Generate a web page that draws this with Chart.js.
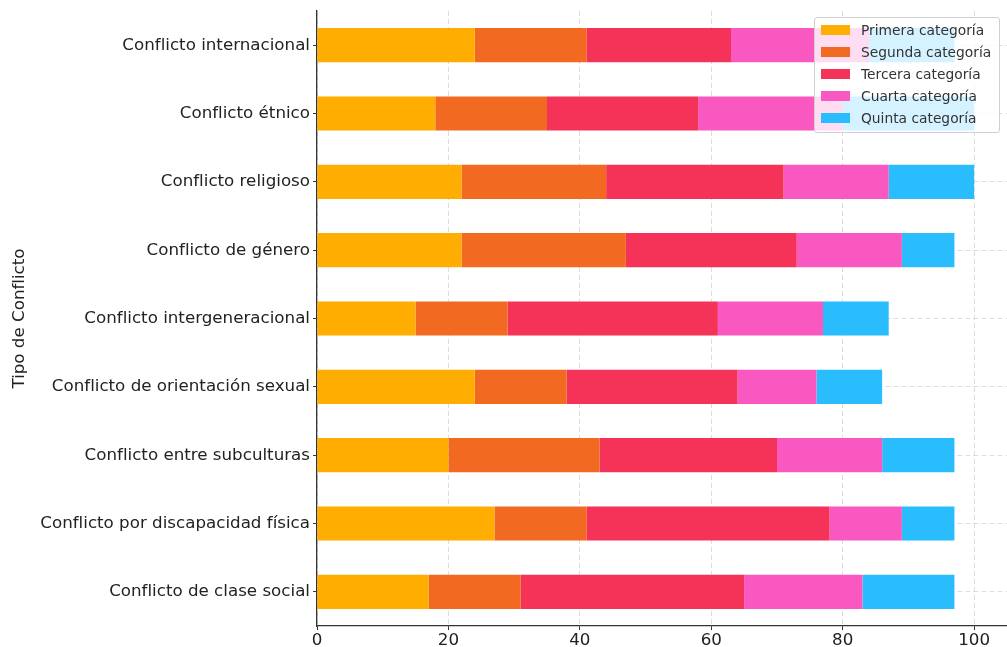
<!DOCTYPE html>
<html lang="es">
<head>
<meta charset="utf-8">
<title>Tipo de Conflicto</title>
<script src="https://cdn.jsdelivr.net/npm/chart.js@4.4.1/dist/chart.umd.min.js"></script>
<style>
  html, body { margin: 0; padding: 0; background: #fff; }
  #wrap { position: relative; width: 1007px; height: 647px; overflow: hidden; }
  #legend {
    position: absolute; left: 814px; top: 17px; width: 186px;
    box-sizing: border-box; padding: 1px 0 3px 6px;
    background: rgba(255, 255, 255, 0.8);
    border: 1px solid #d0d0d0; border-radius: 3px;
    font-family: "DejaVu Sans", sans-serif; font-size: 13.8px; color: #333;
  }
  .item { display: flex; align-items: center; height: 22px; }
  .swatch { width: 29px; height: 10px; margin-right: 11px; }
</style>
</head>
<body>
<div id="wrap">
  <canvas id="chart" width="1007" height="647"></canvas>
  <div id="legend"></div>
</div>
<script>
  // ==================== Data ====================
  const categories = [
    'Conflicto internacional',
    'Conflicto étnico',
    'Conflicto religioso',
    'Conflicto de género',
    'Conflicto intergeneracional',
    'Conflicto de orientación sexual',
    'Conflicto entre subculturas',
    'Conflicto por discapacidad física',
    'Conflicto de clase social'
  ];

  const seriesLabels = ['Primera categoría', 'Segunda categoría', 'Tercera categoría', 'Cuarta categoría', 'Quinta categoría'];

  const primera = [24, 18, 22, 22, 15, 24, 20, 27, 17];
  const segunda = [17, 17, 22, 25, 14, 14, 23, 14, 14];
  const tercera = [22, 23, 27, 26, 32, 26, 27, 37, 34];
  const cuarta  = [21, 22, 16, 16, 16, 12, 16, 11, 18];
  const quinta  = [13, 20, 13,  8, 10, 10, 11,  8, 14];

  const xTicks = [0, 20, 40, 60, 80, 100];

  const colors = ['#ffad00', '#f26a22', '#f53257', '#f858c0', '#29bdfd'];

  // ==================== Chart ====================
  const font = { family: '"DejaVu Sans", sans-serif', size: 16.7 };
  const gridColor = 'rgba(176, 176, 176, 0.55)';

  const datasets = [primera, segunda, tercera, cuarta, quinta].map((values, i) => ({
    label: seriesLabels[i],
    data: values,
    backgroundColor: colors[i],
    borderWidth: 0,
    barPercentage: 0.5,
    categoryPercentage: 1
  }));

  new Chart(document.getElementById('chart'), {
    type: 'bar',
    data: { labels: categories, datasets: datasets },
    options: {
      indexAxis: 'y',
      responsive: false,
      animation: false,
      devicePixelRatio: 1,
      layout: { padding: { top: 11, right: 0, bottom: 0, left: 0 } },
      plugins: {
        legend: { display: false },
        tooltip: { enabled: false }
      },
      scales: {
        x: {
          stacked: true,
          min: 0,
          max: 105,
          z: 1,
          afterBuildTicks: scale => {
            scale.ticks = xTicks.map(v => ({ value: v }));
          },
          afterFit: scale => { scale.height = 21; },
          ticks: { font: font, color: '#222', padding: 1, maxRotation: 0 },
          grid: {
            color: gridColor,
            lineWidth: 0.8,
            tickColor: '#333',
            tickLength: 4,
            tickWidth: 1
          },
          border: { display: true, color: '#333', width: 1.3, dash: [5, 3] }
        },
        y: {
          stacked: true,
          z: 1,
          afterFit: scale => {
            scale.width = 317;
            scale.paddingTop = 0;
            scale.paddingBottom = 0;
          },
          title: {
            display: true,
            text: 'Tipo de Conflicto',
            font: font,
            color: '#222',
            padding: { top: 10, bottom: 2 }
          },
          ticks: { font: font, color: '#222', padding: 3 },
          grid: {
            offset: false,
            color: gridColor,
            lineWidth: 0.8,
            tickColor: '#333',
            tickLength: 4,
            tickWidth: 1
          },
          border: { display: true, color: '#333', width: 1.3, dash: [5, 3] }
        }
      }
    }
  });

  // ==================== Legend ====================
  const legend = document.getElementById('legend');
  seriesLabels.forEach((label, i) => {
    const item = document.createElement('div');
    item.className = 'item';
    const sw = document.createElement('span');
    sw.className = 'swatch';
    sw.style.background = colors[i];
    const txt = document.createElement('span');
    txt.textContent = label;
    item.appendChild(sw);
    item.appendChild(txt);
    legend.appendChild(item);
  });
</script>
</body>
</html>
